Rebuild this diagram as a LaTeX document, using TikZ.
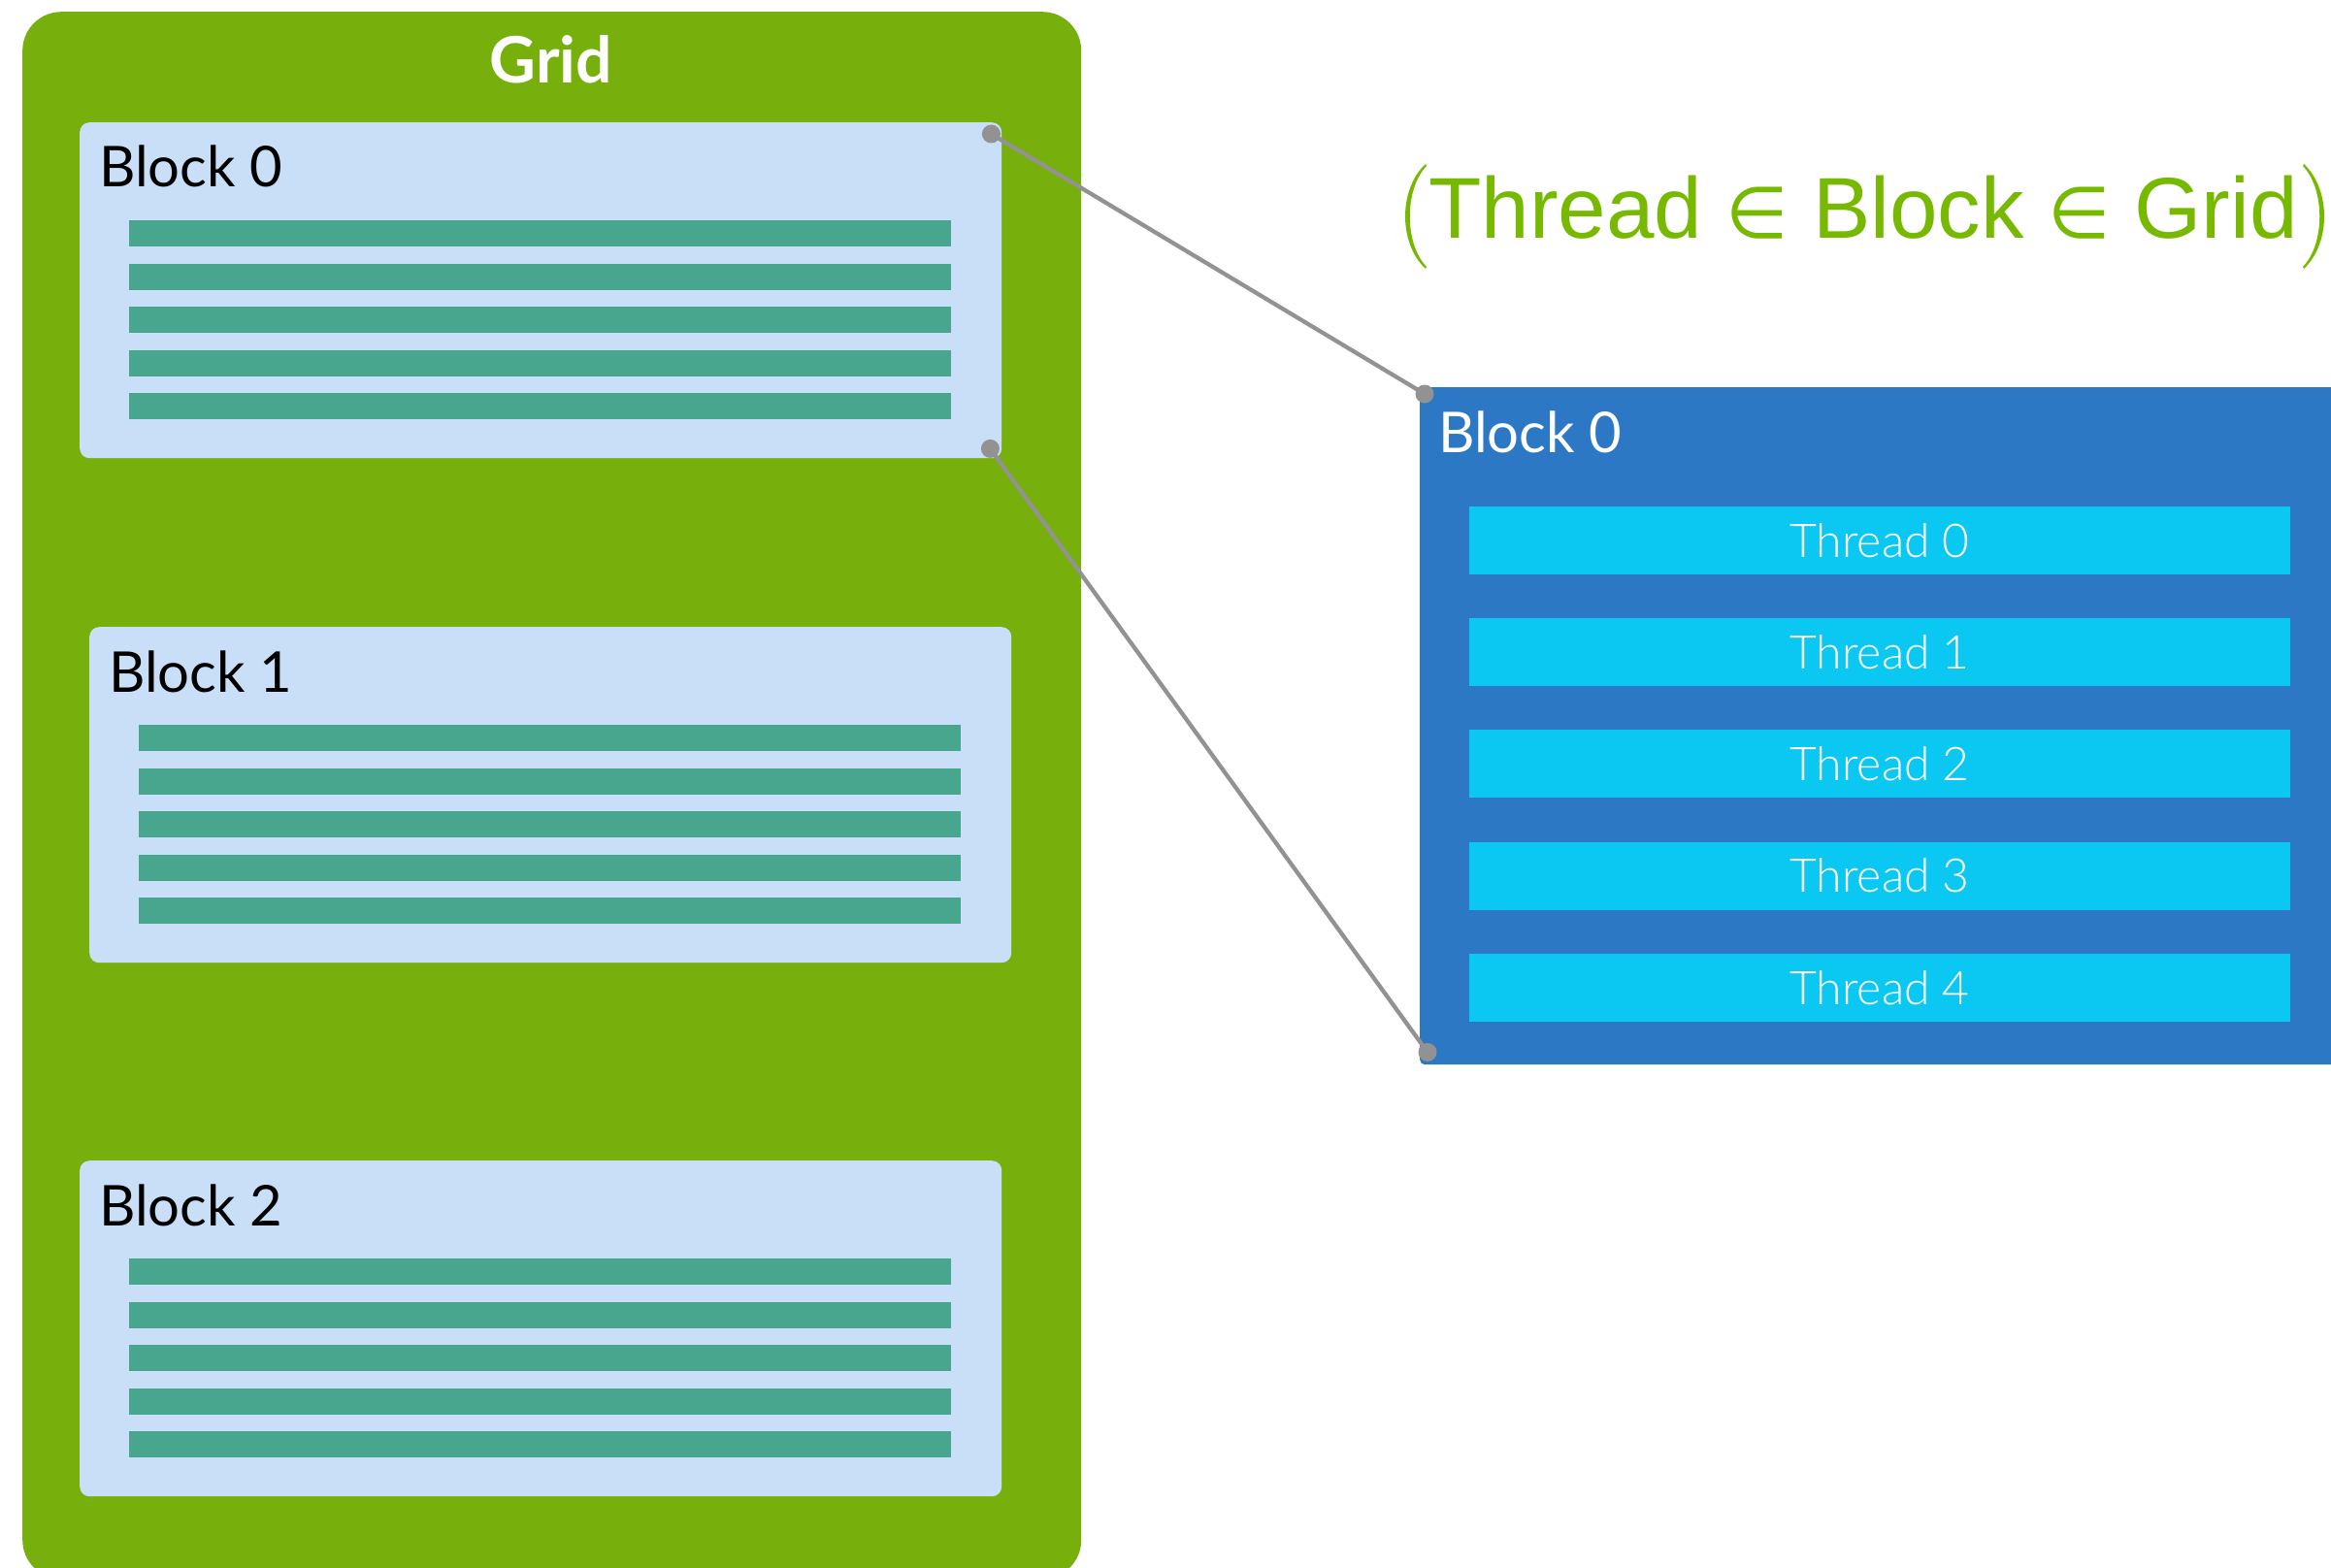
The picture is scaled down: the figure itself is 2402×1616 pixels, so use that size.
\documentclass[tikz,border=0pt]{standalone}
\usepackage{fontspec}
\setmainfont{Lato}
\newfontfamily\arialf{Liberation Sans}
\newfontfamily\dejavuf{DejaVu Sans}
\IfFontExistsTF{Lato Light}{\newfontfamily\thinf{Lato Light}}{\newfontfamily\thinf{Lato}}
\definecolor{gridgreen}{HTML}{77AF0C}
\definecolor{formgreen}{HTML}{76B900}
\definecolor{lightblk}{HTML}{C9DFF8}
\definecolor{stripecol}{HTML}{48A58E}
\definecolor{bigblue}{HTML}{2C78C4}
\definecolor{thrcyan}{HTML}{0BC8F2}
\definecolor{linkgray}{HTML}{929292}
\tikzset{
  gridbox/.style={fill=gridgreen, rounded corners=40pt, inner sep=0pt, anchor=north west,
    minimum width=1091, minimum height=1615},
  lblock/.style={fill=lightblk, rounded corners=10pt, inner sep=0pt, anchor=north west,
    minimum width=950, minimum height=346},
  stripebar/.style={fill=stripecol, inner sep=0pt, anchor=north west,
    minimum width=847, minimum height=27},
  bluebox/.style={fill=bigblue, rounded corners=5pt, inner sep=0pt, anchor=north west,
    minimum width=990, minimum height=698},
  thrbar/.style={fill=thrcyan, inner sep=0pt, minimum width=846, minimum height=70,
    text=white, font=\thinf\fontsize{48}{52}\selectfont},
  blklabel/.style={anchor=base west, inner sep=0pt, font=\fontsize{58}{62}\selectfont},
  link/.style={draw=linkgray, line width=4.3pt},
  linkdot/.style={fill=linkgray},
}
\begin{document}
\begin{tikzpicture}[x=1pt,y=-1pt]
\useasboundingbox (0,0) rectangle (2402,1616);
\begin{scope}
\clip (0,0) rectangle (2402,1616);
% grid
\node[gridbox] (grid) at (23,12) {};
\node[anchor=base, inner sep=0pt, text=white, font=\bfseries\fontsize{66}{70}\selectfont] (gridlabel) at (568,86) {Grid};
% blocks in grid
\foreach \bx/\by/\n in {82/126/0, 92/646/1, 82/1196/2} {
  \node[lblock] (blk\n) at (\bx,\by) {};
  \node[blklabel] (blk\n label) at (\bx+20,\by+67) {Block \n};
  \foreach \i in {0,...,4} {
    \node[stripebar] (blk\n s\i) at (\bx+51,\by+101+44.5*\i) {};
  }
}
% formula
\node[anchor=base, inner sep=0pt, text=formgreen, font=\arialf\fontsize{89}{100}\selectfont] (formula) at (1920,246)
  {Thread {\dejavuf\fontsize{74}{80}\selectfont ∈} Block {\dejavuf\fontsize{74}{80}\selectfont ∈} Grid};
\fill[formgreen] (1469,169) .. controls (1441,195) and (1441,251) .. (1469,277)
   -- (1470,275) .. controls (1447,251) and (1447,195) .. (1470,171) -- cycle;
\fill[formgreen] (2374,169) .. controls (2402,195) and (2402,251) .. (2374,277)
   -- (2373,275) .. controls (2396,251) and (2396,195) .. (2373,171) -- cycle;
% big block
\node[bluebox] (bblk) at (1463,399) {};
\node[blklabel, text=white] (bblklabel) at (1482,466) {Block 0};
\foreach \i in {0,...,4} {
  \node[thrbar] (thr\i) at (1937,557+115.2*\i) {Thread \i};
}
% connectors
\coordinate (c1) at ([xshift=-11pt,yshift=-12pt]blk0.north east);
\coordinate (c3) at ([xshift=-12pt,yshift=10pt]blk0.south east);
\coordinate (c2) at ([xshift=5pt,yshift=-7pt]bblk.north west);
\coordinate (c4) at ([xshift=8pt,yshift=13pt]bblk.south west);
\draw[link] (c1) -- (c2);
\draw[link] (c3) -- (c4);
\foreach \c in {c1,c2,c3,c4} { \fill[linkdot] (\c) circle (9.5); }
\end{scope}
\end{tikzpicture}
\end{document}
